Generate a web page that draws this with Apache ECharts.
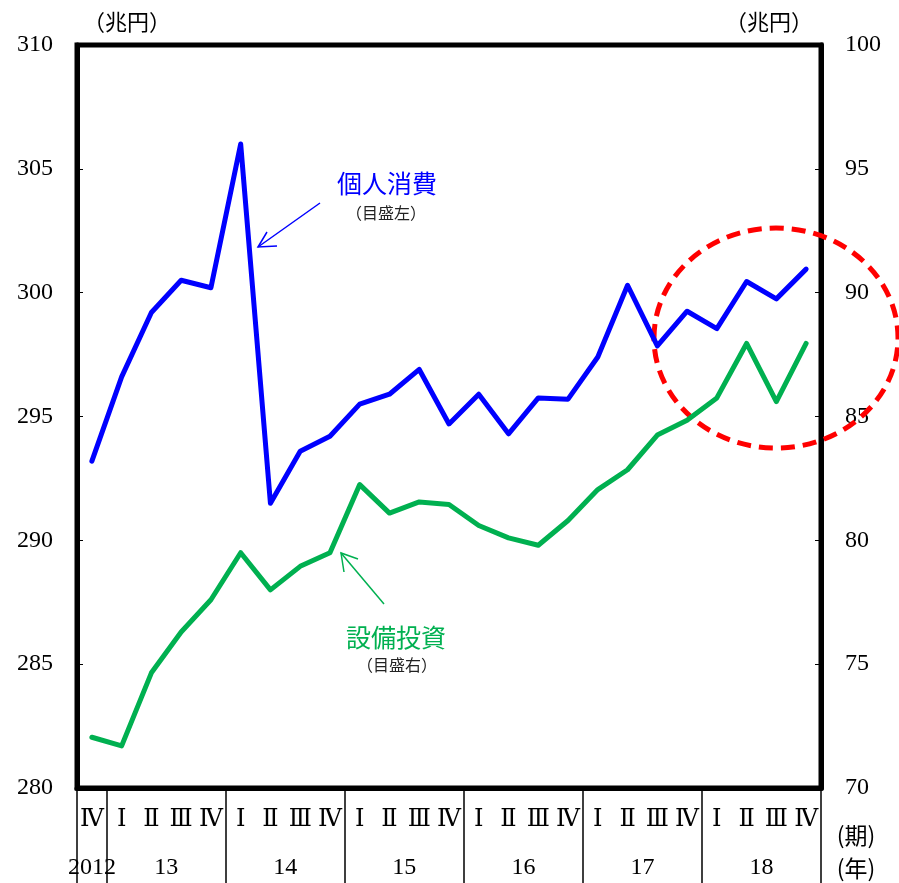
<!DOCTYPE html>
<html>
<head>
<meta charset="utf-8">
<script src="https://cdn.jsdelivr.net/npm/echarts@6/dist/echarts.min.js"></script>
<style>
  html, body { margin: 0; padding: 0; background: #fff; }
  #chart { width: 899px; height: 883px; }
</style>
</head>
<body>
<div id="chart"></div>
<script>
// Quarter labels, 2012 Q4 through 2018 Q4
const quarters = ['Ⅳ',
  'Ⅰ','Ⅱ','Ⅲ','Ⅳ',
  'Ⅰ','Ⅱ','Ⅲ','Ⅳ',
  'Ⅰ','Ⅱ','Ⅲ','Ⅳ',
  'Ⅰ','Ⅱ','Ⅲ','Ⅳ',
  'Ⅰ','Ⅱ','Ⅲ','Ⅳ',
  'Ⅰ','Ⅱ','Ⅲ','Ⅳ'];
const years = ['2012', '13', '14', '15', '16', '17', '18'];
const quartersPerYear = [1, 4, 4, 4, 4, 4, 4];

// Private consumption (trillion yen, left scale)
const consumption = [293.2, 296.6, 299.2, 300.5, 300.2, 306.0, 291.5, 293.6, 294.2,
  295.5, 295.9, 296.9, 294.7, 295.9, 294.3, 295.75, 295.7, 297.4, 300.3,
  297.85, 299.25, 298.55, 300.45, 299.75, 300.95];
// Capital investment (trillion yen, right scale)
const investment = [72.05, 71.7, 74.65, 76.3, 77.6, 79.5, 78.0, 78.95, 79.5,
  82.25, 81.1, 81.55, 81.45, 80.6, 80.1, 79.8, 80.8, 82.05, 82.85,
  84.25, 84.85, 85.75, 87.95, 85.6, 87.95];

const leftTicks = { min: 280, max: 310, interval: 5 };
const rightTicks = { min: 70, max: 100, interval: 5 };

// Year boundaries and year centres along the quarter index
const yearEdges = [0];
quartersPerYear.forEach(n => yearEdges.push(yearEdges[yearEdges.length - 1] + n));
const yearCenters = quartersPerYear.map((n, i) => yearEdges[i] + n / 2);

const BLUE = '#0000ff';
const GREEN = '#00b050';
const SERIF = '"Liberation Serif", "DejaVu Serif", serif';
const CJK = '"Noto Sans CJK JP", sans-serif';

const chart = echarts.init(document.getElementById('chart'), null, { renderer: 'canvas' });

const yAxisCommon = {
  type: 'value',
  splitLine: { show: false },
  axisLine: { show: true, lineStyle: { color: '#000', width: 5 } },
  axisTick: { show: true, inside: true, length: 6, lineStyle: { color: '#000', width: 1 } },
  axisLabel: { color: '#000', fontFamily: SERIF, fontSize: 24, margin: 24 },
  nameTextStyle: { color: '#000', fontFamily: CJK, fontSize: 22 },
  nameLocation: 'end',
  nameGap: 12
};

chart.setOption({
  animation: false,
  backgroundColor: '#fff',
  grid: {
    left: 77, right: 78, top: 45, bottom: 95,
    show: true, borderColor: '#000', borderWidth: 5, backgroundColor: 'transparent'
  },
  xAxis: [
    {
      type: 'category',
      data: quarters,
      boundaryGap: true,
      position: 'bottom',
      axisLine: { show: true, onZero: false, lineStyle: { color: '#000', width: 5 } },
      axisTick: { show: false },
      axisLabel: { interval: 0, color: '#000', fontFamily: '"DejaVu Serif", serif', fontSize: 24, margin: 20 },
      splitLine: { show: false }
    },
    {
      type: 'value',
      min: 0,
      max: yearEdges[yearEdges.length - 1],
      position: 'bottom',
      axisLine: { show: false, onZero: false },
      axisTick: {
        show: true, inside: false, length: 96,
        customValues: yearEdges,
        lineStyle: { color: '#000', width: 1.5 }
      },
      axisLabel: {
        customValues: yearCenters,
        formatter: v => years[yearCenters.indexOf(v)],
        color: '#000', fontFamily: SERIF, fontSize: 24, margin: 68
      },
      splitLine: { show: false }
    }
  ],
  yAxis: [
    Object.assign({}, yAxisCommon, {
      position: 'left',
      min: leftTicks.min, max: leftTicks.max, interval: leftTicks.interval,
      name: '（兆円）',
      nameTextStyle: Object.assign({}, yAxisCommon.nameTextStyle, { align: 'left', padding: [0, 0, 0, 6] })
    }),
    Object.assign({}, yAxisCommon, {
      position: 'right',
      min: rightTicks.min, max: rightTicks.max, interval: rightTicks.interval,
      name: '（兆円）',
      nameTextStyle: Object.assign({}, yAxisCommon.nameTextStyle, { align: 'right', padding: [0, 8, 0, 0] })
    })
  ],
  series: [
    {
      name: '個人消費',
      type: 'line',
      xAxisIndex: 0, yAxisIndex: 0,
      data: consumption,
      symbol: 'none',
      lineStyle: { color: BLUE, width: 5, join: 'round', cap: 'round' },
      z: 3
    },
    {
      name: '設備投資',
      type: 'line',
      xAxisIndex: 0, yAxisIndex: 1,
      data: investment,
      symbol: 'none',
      lineStyle: { color: GREEN, width: 5, join: 'round', cap: 'round' },
      z: 3
    }
  ],
  graphic: [
    // highlight around the latest quarters
    {
      type: 'ellipse',
      shape: { cx: 776, cy: 338, rx: 122, ry: 110 },
      style: { fill: 'none', stroke: '#ff0000', lineWidth: 5, lineDash: [14, 8] },
      z: 1
    },
    // series captions
    { type: 'text', x: 387, y: 183, style: { text: '個人消費', fill: BLUE, font: '25px ' + CJK, align: 'center', verticalAlign: 'middle' } },
    { type: 'text', x: 386, y: 213, style: { text: '（目盛左）', fill: '#222', font: '16px ' + CJK, align: 'center', verticalAlign: 'middle' } },
    { type: 'text', x: 396, y: 637, style: { text: '設備投資', fill: GREEN, font: '25px ' + CJK, align: 'center', verticalAlign: 'middle' } },
    { type: 'text', x: 397, y: 665, style: { text: '（目盛右）', fill: '#222', font: '16px ' + CJK, align: 'center', verticalAlign: 'middle' } },
    // pointer arrows
    { type: 'line', shape: { x1: 320, y1: 203, x2: 258, y2: 247 }, style: { stroke: BLUE, lineWidth: 1.5 } },
    { type: 'polyline', shape: { points: [[267, 232], [258, 247], [277, 246]] }, style: { stroke: BLUE, lineWidth: 1.5, fill: 'none' } },
    { type: 'line', shape: { x1: 384, y1: 604, x2: 341, y2: 553 }, style: { stroke: GREEN, lineWidth: 1.5 } },
    { type: 'polyline', shape: { points: [[344, 572], [341, 553], [358, 559]] }, style: { stroke: GREEN, lineWidth: 1.5, fill: 'none' } },
    // axis row captions
    { type: 'text', x: 856, y: 835, style: { text: '(期)', fill: '#000', font: '23px ' + CJK, align: 'center', verticalAlign: 'middle' } },
    { type: 'text', x: 856, y: 868, style: { text: '(年)', fill: '#000', font: '23px ' + CJK, align: 'center', verticalAlign: 'middle' } }
  ]
});
</script>
</body>
</html>
